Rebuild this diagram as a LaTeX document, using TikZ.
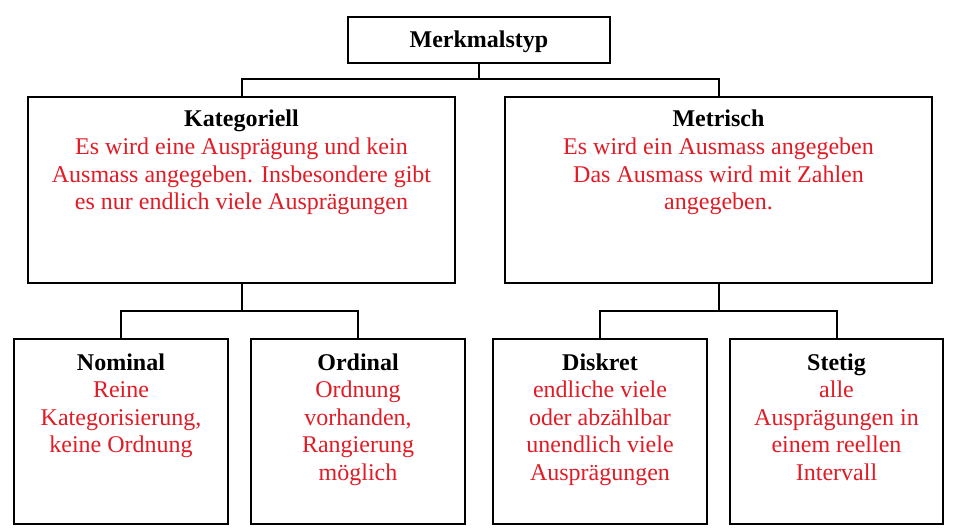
\documentclass[tikz,border=0pt]{standalone}
\usepackage{fontspec}
\setmainfont{Liberation Serif}
\definecolor{txtred}{RGB}{225,28,38}
\begin{document}
\begin{tikzpicture}[x=1pt,y=-1pt,
  box/.style={draw=black,line width=2pt,inner sep=0pt,fill=white},
  lbl/.style={anchor=base,inner sep=0pt},
  conn/.style={draw=black,line width=2pt}]
\useasboundingbox (0,0) rectangle (955,532);
\newcommand{\mytxt}[2]{\fontsize{24}{27.6}\selectfont\begin{tabular}[t]{@{}c@{}}\textbf{#1}\\\color{txtred}#2\end{tabular}}
% boxes
\node[box,minimum width=262pt,minimum height=46pt] (M) at (479,40) {};
\node[box,minimum width=427pt,minimum height=186pt] (K) at (241.5,190) {};
\node[box,minimum width=427pt,minimum height=186pt] (T) at (718.5,190) {};
\node[box,minimum width=214pt,minimum height=185pt] (N) at (121,431.5) {};
\node[box,minimum width=214pt,minimum height=185pt] (O) at (358,431.5) {};
\node[box,minimum width=214pt,minimum height=185pt] (D) at (600,431.5) {};
\node[box,minimum width=213pt,minimum height=185pt] (S) at (836.5,431.5) {};
% texts
\node[lbl] (Mt) at (479,48) {\fontsize{24}{27.6}\selectfont\textbf{Merkmalstyp}};
\node[lbl] (Kt) at (241.5,127) {\mytxt{Kategoriell}{Es wird eine Ausprägung und kein\\\color{txtred}Ausmass angegeben. Insbesondere gibt\\\color{txtred}es nur endlich viele Ausprägungen}};
\node[lbl] (Tt) at (718.5,127) {\mytxt{Metrisch}{Es wird ein Ausmass angegeben\\\color{txtred}Das Ausmass wird mit Zahlen\\\color{txtred}angegeben.}};
\node[lbl] (Nt) at (121,370) {\mytxt{Nominal}{Reine\\\color{txtred}Kategorisierung,\\\color{txtred}keine Ordnung}};
\node[lbl] (Ot) at (358,370) {\mytxt{Ordinal}{Ordnung\\\color{txtred}vorhanden,\\\color{txtred}Rangierung\\\color{txtred}möglich}};
\node[lbl] (Dt) at (600,370) {\mytxt{Diskret}{endliche viele\\\color{txtred}oder abzählbar\\\color{txtred}unendlich viele\\\color{txtred}Ausprägungen}};
\node[lbl] (St) at (836.5,370) {\mytxt{Stetig}{alle\\\color{txtred}Ausprägungen in\\\color{txtred}einem reellen\\\color{txtred}Intervall}};
% connectors
\coordinate (mj) at (479,79);
\coordinate (kj) at (241.5,311);
\coordinate (tj) at (718.5,311);
\draw[conn] (M.south) -- (mj);
\draw[conn] (mj) -| (K.north);
\draw[conn] (mj) -| (T.north);
\draw[conn] (K.south) -- (kj);
\draw[conn] (kj) -| (N.north);
\draw[conn] (kj) -| (O.north);
\draw[conn] (T.south) -- (tj);
\draw[conn] (tj) -| (D.north);
\draw[conn] (tj) -| (S.north);
\end{tikzpicture}
\end{document}
